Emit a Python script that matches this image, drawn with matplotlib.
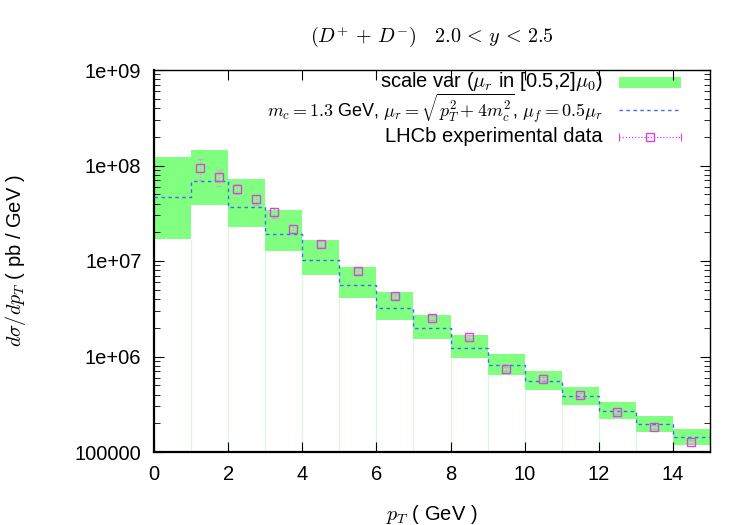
import numpy as np
import matplotlib
matplotlib.use("Agg")
import matplotlib.pyplot as plt
from matplotlib.lines import Line2D
from matplotlib.patches import Rectangle

plt.rcParams['mathtext.fontset'] = 'cm'
plt.rcParams['font.family'] = ['Liberation Sans', 'DejaVu Sans']

# Theory bins (pT edges) and scale-variation band / central values
bin_edges = [0, 1, 2, 3, 4, 5, 6, 7, 8, 9, 10, 11, 12, 13, 14, 15]
band_upper = [1.23e8, 1.45e8, 7.22e7, 3.42e7, 1.66e7, 8.65e6, 4.73e6, 2.72e6,
              1.68e6, 1.06e6, 7.05e5, 4.80e5, 3.34e5, 2.38e5, 1.74e5]
band_lower = [1.70e7, 3.86e7, 2.27e7, 1.27e7, 7.13e6, 4.10e6, 2.41e6, 1.52e6,
              9.64e5, 6.40e5, 4.46e5, 3.10e5, 2.22e5, 1.62e5, 1.18e5]
central = [4.68e7, 6.88e7, 3.67e7, 1.92e7, 1.02e7, 5.61e6, 3.22e6, 1.99e6,
           1.23e6, 8.15e5, 5.54e5, 3.86e5, 2.69e5, 1.96e5, 1.44e5]

# LHCb data
data_pt = [1.25, 1.75, 2.25, 2.75, 3.25, 3.75, 4.5, 5.5, 6.5, 7.5, 8.5, 9.5,
           10.5, 11.5, 12.5, 13.5, 14.5]
data_val = [9.42e7, 7.52e7, 5.71e7, 4.43e7, 3.24e7, 2.16e7, 1.51e7, 7.86e6,
            4.30e6, 2.55e6, 1.59e6, 7.40e5, 5.86e5, 3.95e5, 2.62e5, 1.84e5, 1.27e5]
data_relerr = [0.25, 0.18, 0.12, 0.12, 0.12, 0.10, 0.08, 0.07, 0.06, 0.06,
               0.05, 0.05, 0.05, 0.05, 0.05, 0.05, 0.05]

x_ticks = [0, 2, 4, 6, 8, 10, 12, 14]
y_ticks = [1e5, 1e6, 1e7, 1e8, 1e9]
y_ticklabels = ['100000', '1e+06', '1e+07', '1e+08', '1e+09']

legend_labels = [r'scale var ($\mu_r$ in [0.5,2]$\mu_0$)',
                 r'$m_c=1.3$ GeV, $\mu_r=\sqrt{p_T^2+4m_c^2}$, $\mu_f=0.5\mu_r$',
                 'LHCb experimental data']

green = '#80ff80'
blue = '#4466ff'
magenta = '#e040e0'

fig = plt.figure(figsize=(7.5, 5.25), dpi=100)
ax = fig.add_axes([154/750, 1-452/525, (710-154)/750, (452-70)/525])
ax.set_yscale('log')
ax.set_xlim(0, 15)
ax.set_ylim(1e5, 1e9)

edges = np.array(bin_edges, dtype=float)
up = np.array(band_upper)
lo = np.array(band_lower)
for i in range(len(up)):
    ax.fill_between([edges[i], edges[i+1]], lo[i], up[i], color=green, lw=0, zorder=1)

# faint bin-edge lines from axis bottom up to band
for i in range(1, len(edges)-1):
    ytop = min(lo[i-1], lo[i])
    ax.vlines(edges[i], 1e5, ytop, color='#dff5df', lw=0.9, zorder=0.5)

# central step line
cen = np.array(central)
ax.step(edges, np.append(cen, cen[-1]), where='post', color=blue, lw=1.0,
        ls=(0, (2.5, 2.5)), zorder=3)

dv = np.array(data_val)
err = dv*np.array(data_relerr)
eb = ax.errorbar(data_pt, data_val, yerr=err, fmt='none', ecolor='#e090e0',
                 elinewidth=0.8, capsize=2.5, capthick=0.8, zorder=4)
for lc in eb[2]:
    lc.set_linestyle((0, (1, 1.5)))
for cap in eb[1]:
    cap.set_alpha(0.7)
ax.plot(data_pt, data_val, ls='none', marker='s', ms=5.5, mfc='none',
        mec=magenta, mew=1.0, zorder=5)

ax.set_xticks(x_ticks)
ax.set_xticklabels([str(t) for t in x_ticks])
ax.set_yticks(y_ticks)
ax.set_yticklabels(y_ticklabels)
ax.tick_params(axis='both', which='major', direction='in', length=7, width=0.8,
               top=True, right=True, labelsize=14.5, pad=9, colors='black')
ax.tick_params(axis='y', which='minor', direction='in', length=4, width=0.6,
               right=True, left=True)
ax.tick_params(axis='x', which='minor', bottom=False, top=False)
for s in ax.spines.values():
    s.set_linewidth(1.0)
ax.spines['left'].set_linewidth(1.6)
ax.spines['bottom'].set_linewidth(1.6)

ax.set_xlabel(r'$p_T$ ( GeV )', fontsize=14.5, labelpad=14)
ax.set_ylabel(r'$d\sigma/dp_T$ ( pb / GeV )', fontsize=14.5, labelpad=34)
ax.set_title(r'$(D^{+}\,+\,D^{-})\quad 2.0\,<\,y\,<\,2.5$', fontsize=14.5, pad=20)

# manual legend (right-aligned text, samples on the right)
tx = 0.8076
hx0, hx1 = 0.8363, 0.9478
text_baselines = [0.9555, 0.8770, 0.8104]
text_sizes = [14.5, 13.0, 14.5]
rows = [0.9680, 0.8940, 0.8250]
for lab, yb, fs in zip(legend_labels, text_baselines, text_sizes):
    ax.text(tx, yb, lab, transform=ax.transAxes, ha='right', va='baseline',
            fontsize=fs)
ax.add_patch(Rectangle((hx0, rows[0]-0.0145), hx1-hx0, 0.029, transform=ax.transAxes,
                       facecolor=green, edgecolor='none', clip_on=False))
ax.add_line(Line2D([hx0, hx1], [rows[1]]*2, transform=ax.transAxes, color=blue,
                   lw=1.0, ls=(0, (2.5, 2.5))))
ax.add_line(Line2D([hx0, hx1], [rows[2]]*2, transform=ax.transAxes, color=magenta,
                   lw=0.9, ls=(0, (1, 1.5))))
ax.add_line(Line2D([hx0, hx1], [rows[2]]*2, transform=ax.transAxes, ls='none',
                   marker='|', ms=6, mew=0.8, color=magenta))
ax.add_line(Line2D([(hx0+hx1)/2], [rows[2]], transform=ax.transAxes, ls='none',
                   marker='s', ms=5.5, mfc='none', mec=magenta, mew=1.0))

fig.savefig('out.png', dpi=100)
